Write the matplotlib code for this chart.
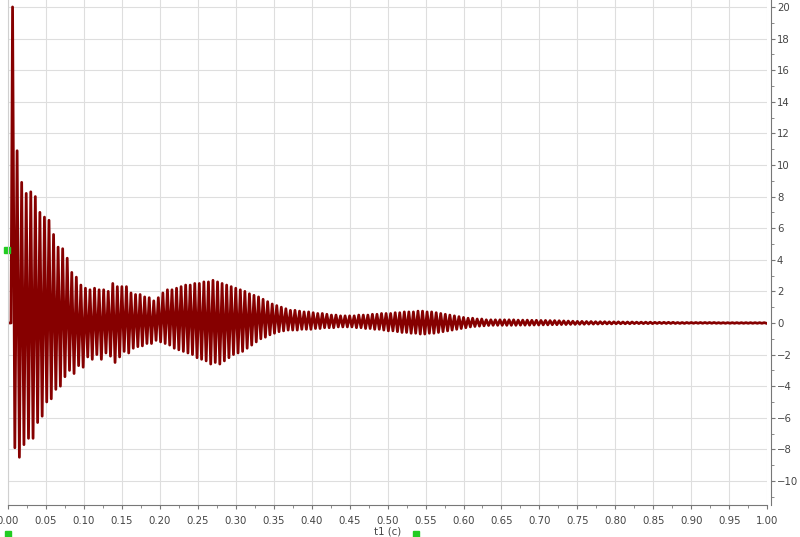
import numpy as np
import matplotlib.pyplot as plt
import matplotlib.transforms as mtransforms
from matplotlib.ticker import MultipleLocator, FormatStrFormatter

# signal: flat lead-in, then alternating peaks (max / min) one per cycle
period = 0.006
lead_t = [0.0, 0.004]
lead_v = [0.0, 0.0]

upper_peaks = [
    20.0, 10.9, 8.9, 8.2, 8.3, 8.0, 7.0, 6.7, 6.5, 5.6,
    4.8, 4.7, 4.1, 3.2, 2.9, 2.4, 2.2, 2.1, 2.2, 2.1,
    2.1, 2.0, 2.5, 2.3, 2.3, 2.3, 1.9, 1.8, 1.8, 1.65,
    1.6, 1.4, 1.6, 1.9, 2.1, 2.1, 2.2, 2.3, 2.4, 2.4,
    2.5, 2.5, 2.6, 2.6, 2.7, 2.6, 2.5, 2.4, 2.3, 2.2,
    2.1, 2.0, 1.85, 1.75, 1.65, 1.5, 1.35, 1.2, 1.1, 1.0,
    0.9, 0.8, 0.8, 0.75, 0.7, 0.7, 0.65, 0.6, 0.6, 0.55,
    0.5, 0.5, 0.45, 0.45, 0.45, 0.45, 0.5, 0.5, 0.5, 0.55,
    0.55, 0.6, 0.6, 0.6, 0.65, 0.65, 0.7, 0.7, 0.7, 0.75,
    0.75, 0.7, 0.7, 0.65, 0.6, 0.55, 0.5, 0.45, 0.4, 0.35,
    0.3, 0.3, 0.25, 0.25, 0.2, 0.2, 0.2, 0.2, 0.2, 0.2,
    0.2, 0.18, 0.18, 0.18, 0.17, 0.17, 0.16, 0.16, 0.15, 0.15,
    0.14, 0.13, 0.12, 0.11, 0.1, 0.1, 0.09, 0.09, 0.08, 0.08,
    0.08, 0.07, 0.07, 0.07, 0.06, 0.06, 0.06, 0.05, 0.05, 0.05,
    0.05, 0.04, 0.04, 0.04, 0.04, 0.04, 0.03, 0.03, 0.03, 0.03,
    0.03, 0.03, 0.03, 0.03, 0.03, 0.02, 0.02, 0.02, 0.02, 0.02,
    0.02, 0.02, 0.02, 0.02, 0.02, 0.02,
]

lower_peaks = [
    -7.9, -8.5, -7.7, -7.3, -7.3, -6.3, -5.9, -5.0, -4.8, -4.2,
    -4.0, -3.4, -3.0, -3.2, -2.7, -2.8, -2.15, -2.3, -2.0, -2.3,
    -1.9, -2.1, -2.5, -2.15, -1.8, -1.9, -1.6, -1.5, -1.45, -1.3,
    -1.3, -1.1, -1.2, -1.3, -1.4, -1.6, -1.7, -1.8, -1.9, -2.0,
    -2.2, -2.3, -2.4, -2.6, -2.5, -2.6, -2.4, -2.2, -2.0, -1.9,
    -1.8, -1.6, -1.4, -1.2, -1.0, -0.9, -0.75, -0.65, -0.55, -0.5,
    -0.45, -0.45, -0.45, -0.4, -0.4, -0.4, -0.35, -0.35, -0.3, -0.3,
    -0.3, -0.25, -0.25, -0.25, -0.25, -0.3, -0.3, -0.35, -0.35, -0.4,
    -0.4, -0.45, -0.5, -0.5, -0.55, -0.6, -0.6, -0.65, -0.65, -0.7,
    -0.7, -0.65, -0.65, -0.6, -0.55, -0.5, -0.45, -0.4, -0.35, -0.3,
    -0.25, -0.22, -0.2, -0.18, -0.16, -0.15, -0.15, -0.15, -0.15, -0.15,
    -0.15, -0.14, -0.14, -0.14, -0.13, -0.13, -0.12, -0.12, -0.11, -0.11,
    -0.1, -0.1, -0.09, -0.09, -0.08, -0.08, -0.07, -0.07, -0.07, -0.06,
    -0.06, -0.06, -0.05, -0.05, -0.05, -0.05, -0.04, -0.04, -0.04, -0.04,
    -0.04, -0.03, -0.03, -0.03, -0.03, -0.03, -0.03, -0.03, -0.02, -0.02,
    -0.02, -0.02, -0.02, -0.02, -0.02, -0.02, -0.02, -0.02, -0.02, -0.02,
    -0.02, -0.02, -0.02, -0.02, -0.02, -0.02,
]

cursor_levels = [4.6]
cursor_times = [0.0, 0.537]

n = min(len(upper_peaks), len(lower_peaks))
k = np.arange(n)
t = np.empty(2 * n)
v = np.empty(2 * n)
t[0::2] = period * (k + 1)
t[1::2] = period * (k + 1) + period / 2
v[0::2] = upper_peaks[:n]
v[1::2] = lower_peaks[:n]
t = np.concatenate([lead_t, t])
v = np.concatenate([lead_v, v])

fig = plt.figure(figsize=(8, 5.37), dpi=100)
ax = fig.add_axes([0.01, 0.0596, 0.949, 0.9404])

ax.plot(t, v, color='#860000', lw=2.0)

ax.set_xlim(0, 1)
ax.set_ylim(-11.52, 20.44)

ax.xaxis.set_major_locator(MultipleLocator(0.05))
ax.xaxis.set_minor_locator(MultipleLocator(0.025))
ax.xaxis.set_major_formatter(FormatStrFormatter('%.2f'))
ax.yaxis.set_major_locator(MultipleLocator(2))
ax.yaxis.set_minor_locator(MultipleLocator(1))
ax.yaxis.tick_right()

ax.grid(which='major', color='#dedede', lw=0.8)
ax.set_axisbelow(True)

ax.spines['top'].set_visible(False)
ax.spines['left'].set_color('#d0d0d0')
ax.spines['right'].set_position(('outward', 3))
ax.spines['right'].set_color('#777777')
ax.spines['bottom'].set_color('#777777')

ax.tick_params(axis='both', which='major', length=3, color='#777777',
               labelsize=7.3, labelcolor='#444444')
ax.tick_params(axis='both', which='minor', length=2, color='#777777')
ax.tick_params(axis='x', pad=5)
ax.tick_params(axis='y', pad=1)

ax.set_xlabel('t1 (c)', fontsize=7.3, color='#444444', labelpad=0)

# green cursor handles at the edges
left_tr = mtransforms.blended_transform_factory(ax.transAxes, ax.transData)
ax.plot([-0.001] * len(cursor_levels), cursor_levels, 's', color='#22cc22',
        ms=5, transform=left_tr, clip_on=False)
bottom_tr = mtransforms.blended_transform_factory(ax.transData, ax.transAxes)
ax.plot(cursor_times, [-0.058] * len(cursor_times), 's', color='#22cc22',
        ms=5, transform=bottom_tr, clip_on=False)

fig.savefig('out.png', dpi=100)
